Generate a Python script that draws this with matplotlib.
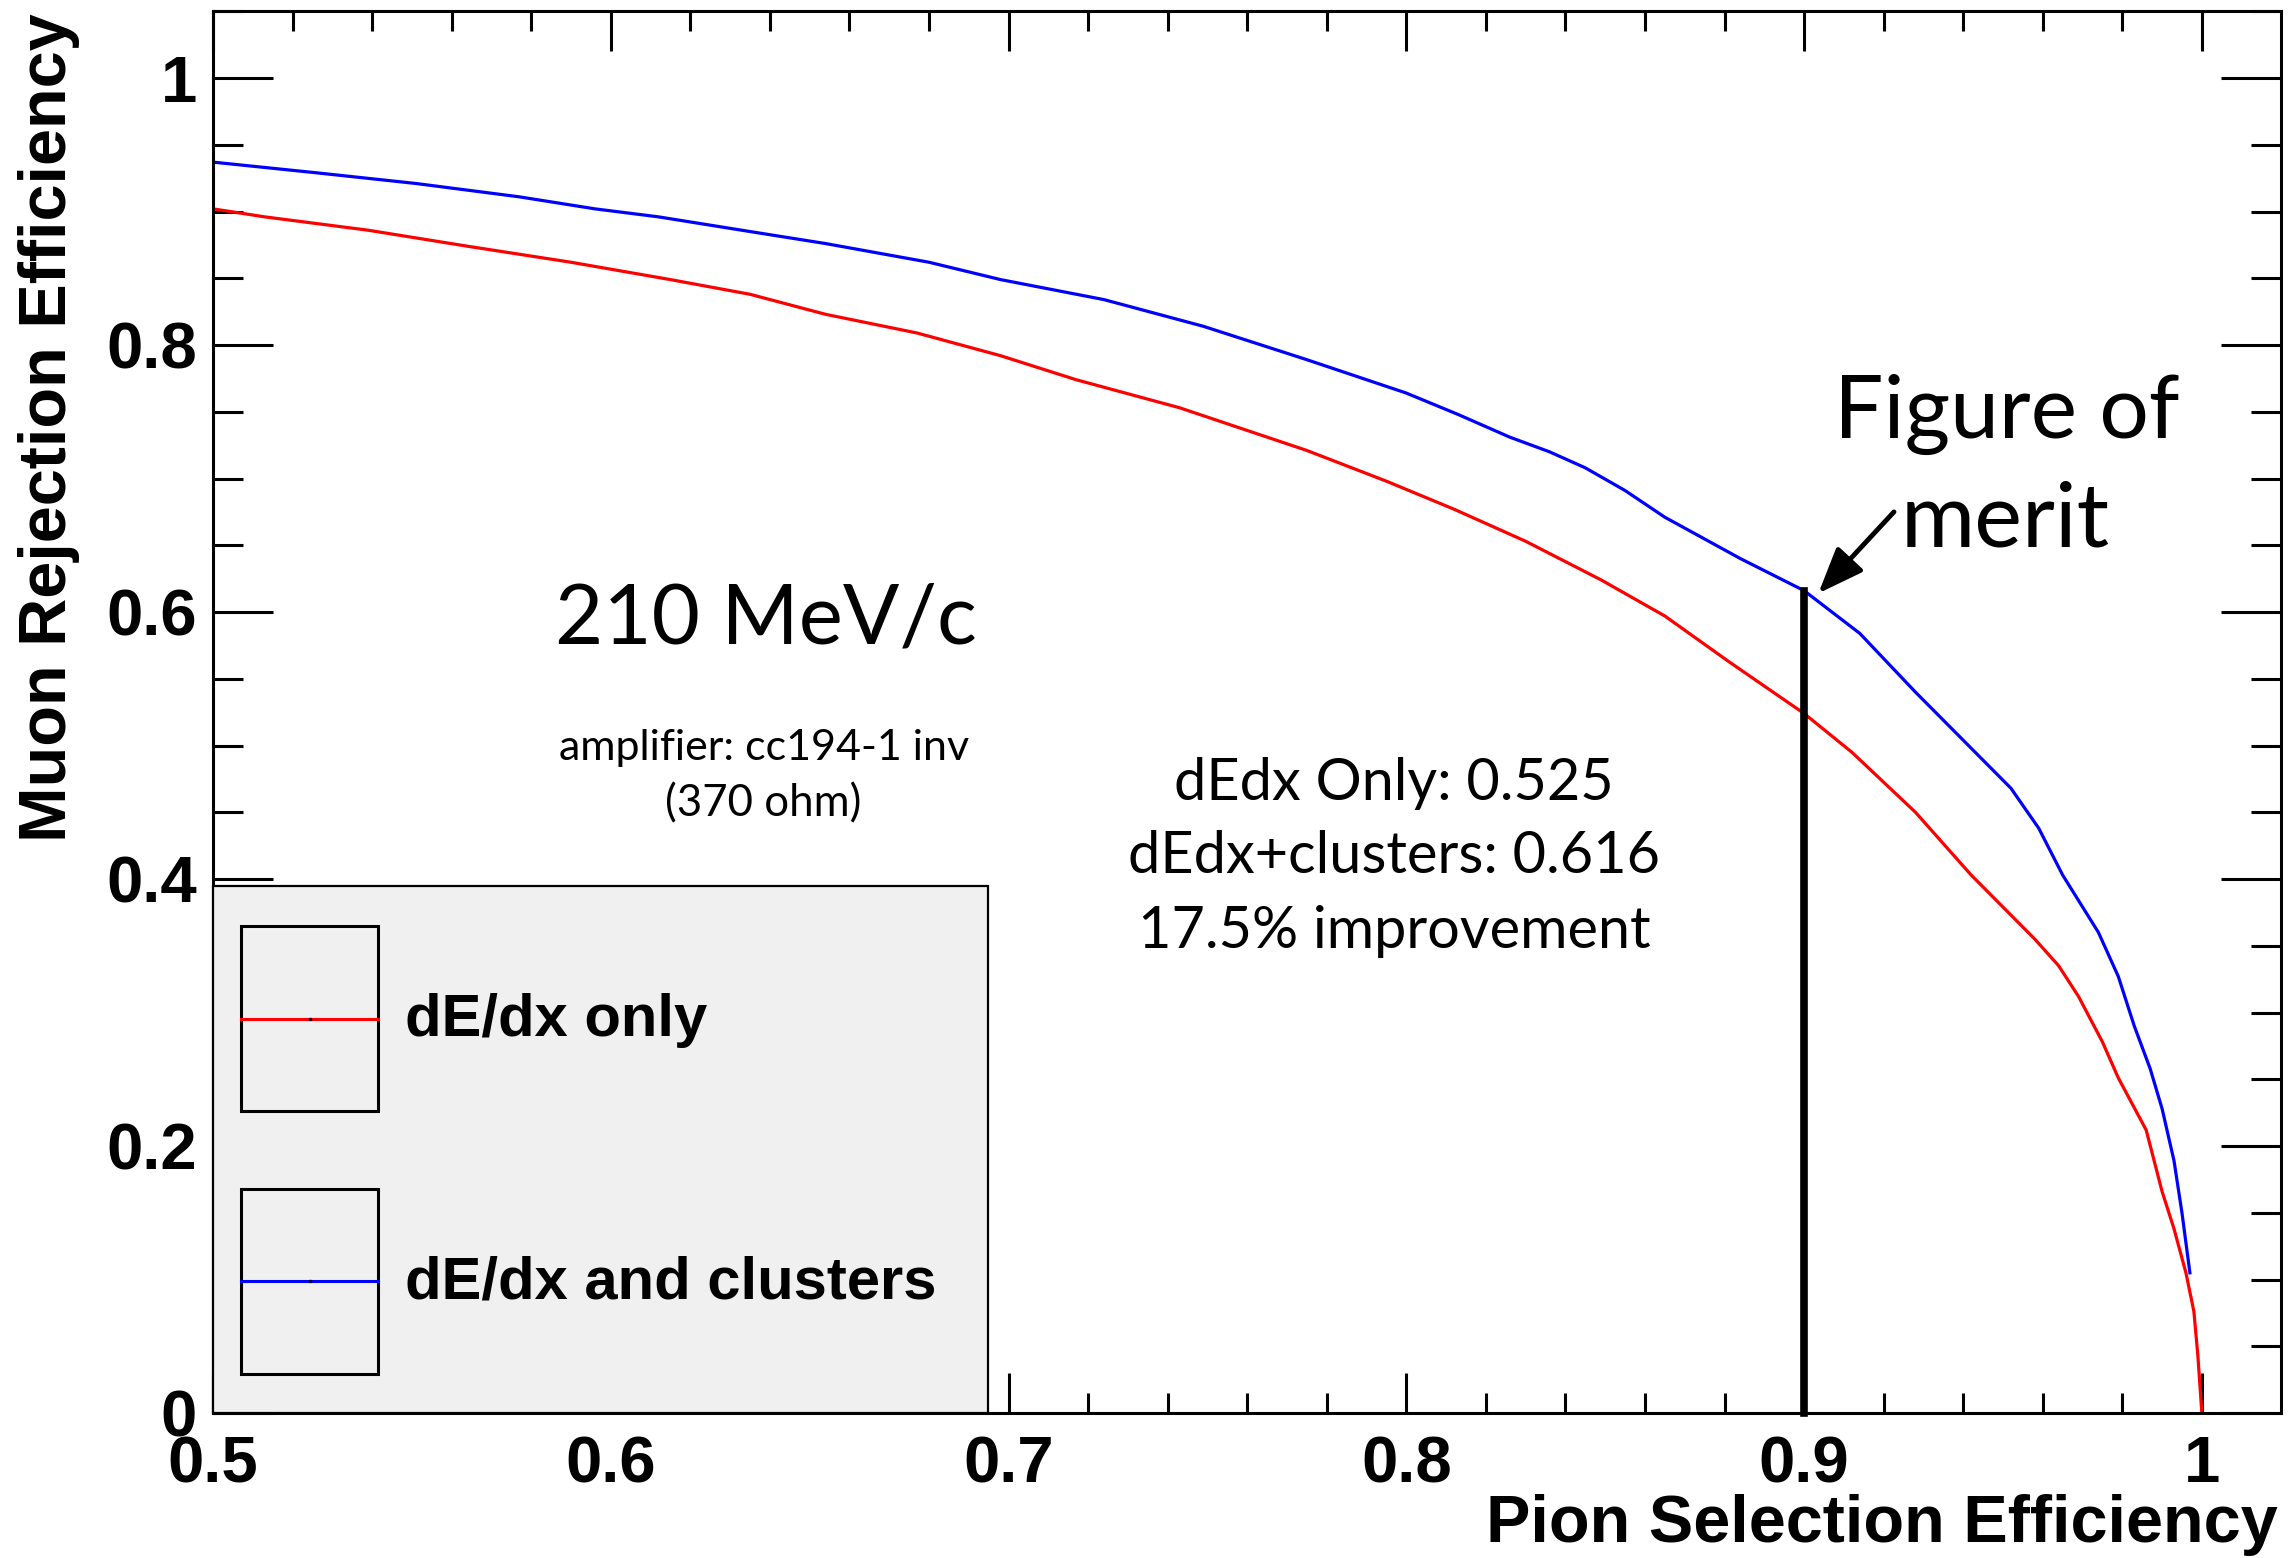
import numpy as np
import matplotlib
matplotlib.use("Agg")
import matplotlib.pyplot as plt
from matplotlib.patches import Rectangle
from matplotlib.ticker import MultipleLocator, FuncFormatter

# ROC curves: pion selection eff vs muon rejection eff
dedx_x = [0.500, 0.513, 0.539, 0.564, 0.590, 0.615, 0.635, 0.654, 0.677, 0.698,
          0.717, 0.743, 0.775, 0.795, 0.812, 0.830, 0.849, 0.865, 0.881, 0.900,
          0.912, 0.928, 0.942, 0.950, 0.958, 0.964, 0.969, 0.975, 0.979, 0.986,
          0.990, 0.993, 0.996, 0.998, 0.999, 1.000]
dedx_y = [0.902, 0.896, 0.886, 0.874, 0.862, 0.849, 0.838, 0.823, 0.809, 0.792,
          0.774, 0.753, 0.721, 0.698, 0.677, 0.653, 0.624, 0.597, 0.563, 0.524,
          0.495, 0.450, 0.403, 0.379, 0.355, 0.335, 0.312, 0.278, 0.251, 0.212,
          0.166, 0.138, 0.105, 0.076, 0.043, 0.000]

clus_x = [0.500, 0.526, 0.551, 0.577, 0.596, 0.612, 0.635, 0.654, 0.667, 0.680,
          0.698, 0.724, 0.749, 0.775, 0.800, 0.813, 0.826, 0.836, 0.845, 0.855,
          0.865, 0.884, 0.900, 0.914, 0.928, 0.943, 0.952, 0.959, 0.965, 0.974,
          0.979, 0.983, 0.987, 0.990, 0.993, 0.995, 0.997]
clus_y = [0.937, 0.929, 0.921, 0.911, 0.902, 0.896, 0.885, 0.876, 0.869, 0.862,
          0.849, 0.834, 0.814, 0.789, 0.764, 0.748, 0.731, 0.720, 0.708, 0.691,
          0.671, 0.640, 0.616, 0.584, 0.540, 0.495, 0.468, 0.438, 0.403, 0.360,
          0.327, 0.290, 0.258, 0.228, 0.189, 0.150, 0.105]

labels = ["dE/dx only", "dE/dx and clusters"]
colors = ["red", "blue"]

fom_x = 0.9
fom_y = 0.616
stats_lines = ["dEdx Only: 0.525", "dEdx+clusters: 0.616", "17.5% improvement"]

bold = "Liberation Sans"
gill = "Lato"

fig = plt.figure(figsize=(22.91, 15.58), dpi=100)
W, H = 2291, 1558
ax = fig.add_axes([213 / W, 1 - 1413 / H, 2068 / W, 1402 / H])

ax.plot(dedx_x, dedx_y, color=colors[0], lw=2.3, zorder=2)
ax.plot(clus_x, clus_y, color=colors[1], lw=2.3, zorder=2)

# figure of merit line + arrow
ax.plot([fom_x, fom_x], [0, fom_y], color="black", lw=5.5,
        solid_capstyle="projecting", zorder=4, clip_on=False)
ax.annotate("", xy=(0.9036, 0.614), xytext=(0.9226, 0.675),
            arrowprops=dict(arrowstyle="-|>,head_length=1.4,head_width=0.55",
                            lw=3.5, color="black", mutation_scale=20,
                            shrinkA=0, shrinkB=0))
ax.text(0.951, 0.7303, "Figure of", fontsize=63, family=gill, ha="center", va="baseline")
ax.text(0.9505, 0.6489, "merit", fontsize=65, family=gill, ha="center", va="baseline")

ax.text(0.6389, 0.5766, "210 MeV/c", fontsize=60, family=gill, ha="center", va="baseline")
ax.text(0.6385, 0.4891, "amplifier: cc194-1 inv", fontsize=31, family=gill,
        ha="center", va="baseline")
ax.text(0.6383, 0.4470, "(370 ohm)", fontsize=31.5, family=gill, ha="center", va="baseline")

for txt, yb in zip(stats_lines, [0.4592, 0.4043, 0.3481]):
    ax.text(0.7969, yb, txt, fontsize=41.5, family=gill, ha="center", va="baseline")

ax.set_xlim(0.5, 1.0199)
ax.set_ylim(0, 1.0502)
ax.xaxis.set_major_locator(MultipleLocator(0.1))
ax.xaxis.set_minor_locator(MultipleLocator(0.02))
ax.yaxis.set_major_locator(MultipleLocator(0.2))
ax.yaxis.set_minor_locator(MultipleLocator(0.05))
fmt = FuncFormatter(lambda v, p: "%g" % round(v, 3))
ax.xaxis.set_major_formatter(fmt)
ax.yaxis.set_major_formatter(fmt)

ax.tick_params(which="both", direction="in", top=True, right=True, width=2.2,
               labelsize=47)
ax.tick_params(axis="x", which="major", length=29, pad=16)
ax.tick_params(axis="x", which="minor", length=14.5)
ax.tick_params(axis="y", which="major", length=43, pad=11.5)
ax.tick_params(axis="y", which="minor", length=21.5)
for lab in ax.get_xticklabels() + ax.get_yticklabels():
    lab.set_family(bold)
    lab.set_fontweight("bold")
for s in ax.spines.values():
    s.set_linewidth(2.2)

fig.text(80 / W, 1 - 13 / H, "Muon Rejection Efficiency", rotation=90, ha="right",
         va="top", fontsize=48, family=bold, fontweight="bold")
fig.text(2278 / W, 1 - 1556 / H, "Pion Selection Efficiency", ha="right",
         va="bottom", fontsize=48, family=bold, fontweight="bold")

# legend box (ROOT TLegend style)
ax.add_patch(Rectangle((0, 0), 0.3748, 0.3759, transform=ax.transAxes,
                       facecolor="#f0f0f0", edgecolor="black", lw=1.6, zorder=5,
                       clip_on=False))
box_x0, box_x1 = 0.01354, 0.0798
for (yb0, yb1), yl, ytxt, c, lab in zip([(0.2154, 0.3474), (0.0278, 0.1598)],
                                        [0.2813, 0.0942], [0.2689, 0.0817],
                                        colors, labels):
    ax.add_patch(Rectangle((box_x0, yb0), box_x1 - box_x0, yb1 - yb0,
                           transform=ax.transAxes, facecolor="none",
                           edgecolor="black", lw=2.2, zorder=6))
    ax.plot([box_x0, box_x1], [yl, yl], color=c, lw=2.2, transform=ax.transAxes,
            zorder=6)
    ax.plot([(box_x0 + box_x1) / 2], [yl], marker="s", ms=2, color="black",
            transform=ax.transAxes, zorder=7)
    ax.text(0.0928, ytxt, lab, transform=ax.transAxes, fontsize=43, family=bold,
            fontweight="bold", ha="left", va="baseline", zorder=7)

fig.savefig("out.png", dpi=100)
